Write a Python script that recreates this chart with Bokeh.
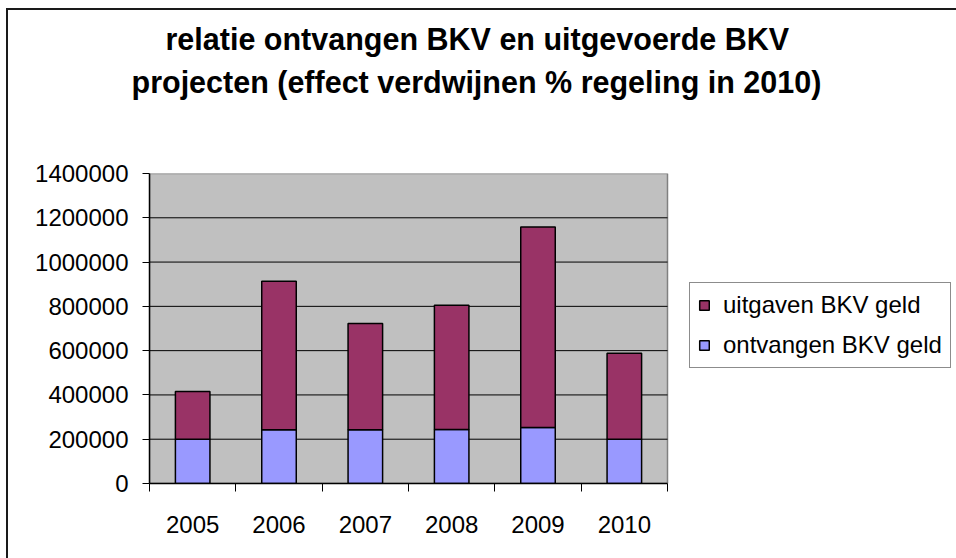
from bokeh.plotting import figure
from bokeh.models import FixedTicker, Legend, LegendItem, Title, Range1d, ColumnDataSource
from bokeh.embed import file_html
from bokeh.resources import INLINE

years = ["2005", "2006", "2007", "2008", "2009", "2010"]
ontvangen = [200000, 243000, 243000, 244000, 253000, 200000]
uitgaven = [216000, 670000, 480000, 561000, 905000, 388000]
y_ticks = [0, 200000, 400000, 600000, 800000, 1000000, 1200000, 1400000]

FONT = "Liberation Sans"
PLOT_W = 518      # width of the grey plot area in pixels
FRAME_W = 807     # frame extends to the right so the legend can sit beside the plot area
FRAME_H = 310

n = len(years)
x_pos = [i + 0.5 for i in range(n)]
src = ColumnDataSource(dict(x=x_pos, ontvangen=ontvangen, uitgaven=uitgaven))

p = figure(frame_width=FRAME_W, frame_height=FRAME_H, output_backend="svg",
           toolbar_location=None,
           x_range=Range1d(0, n * FRAME_W / PLOT_W), y_range=Range1d(0, y_ticks[-1]),
           min_border_left=141, min_border_right=0, min_border_top=163,
           min_border_bottom=75, title=None)
p.styles = {"border-left": "2px solid #1a1a1a", "border-top": "2px solid #1a1a1a",
            "margin-left": "6px", "margin-top": "8px"}

p.background_fill_color = "white"
p.border_fill_color = "white"
p.outline_line_color = None

# grey plot area with its border, and the horizontal grid lines
p.quad(left=[0], right=[n], bottom=[y_ticks[0]], top=[y_ticks[-1]],
       fill_color="#C0C0C0", line_color="#808080", line_width=1.5)
p.segment(x0=[0] * (len(y_ticks) - 2), x1=[n] * (len(y_ticks) - 2),
          y0=y_ticks[1:-1], y1=y_ticks[1:-1], line_color="black", line_width=1)

rs = p.vbar_stack(["ontvangen", "uitgaven"], x="x", width=0.4, source=src,
                  color=["#9999FF", "#993366"], line_color="black", line_width=1.5)

# x axis
p.xaxis.bounds = (0, n)
p.xaxis.ticker = FixedTicker(ticks=x_pos, minor_ticks=list(range(n + 1)))
p.xaxis.major_label_overrides = {xp: y for xp, y in zip(x_pos, years)}
p.xaxis.major_tick_out = 0
p.xaxis.major_tick_in = 0
p.xaxis.minor_tick_out = 8
p.xaxis.minor_tick_in = 0
p.xaxis.minor_tick_line_color = "black"
p.xaxis.minor_tick_line_width = 1
p.xaxis.axis_line_color = "black"
p.xaxis.axis_line_width = 1.5
p.xaxis.major_label_standoff = 24
p.xaxis.major_label_text_font = FONT
p.xaxis.major_label_text_font_size = "24px"
p.xaxis.major_label_text_color = "black"

# y axis
p.yaxis.ticker = FixedTicker(ticks=y_ticks)
p.yaxis.major_label_overrides = {t: str(t) for t in y_ticks}
p.yaxis.major_tick_out = 7
p.yaxis.major_tick_in = 0
p.yaxis.minor_tick_line_color = None
p.yaxis.axis_line_color = "black"
p.yaxis.axis_line_width = 1.5
p.yaxis.major_tick_line_color = "black"
p.yaxis.major_label_standoff = 14
p.yaxis.major_label_text_font = FONT
p.yaxis.major_label_text_font_size = "24px"
p.yaxis.major_label_text_color = "black"

p.xgrid.grid_line_color = None
p.ygrid.grid_line_color = None

# titles (a blank spacer keeps the gap between the title and the plot area)
spacer = Title(text=" ", text_font_size="2px", standoff=71)
t2 = Title(text="projecten (effect verdwijnen % regeling in 2010)", align="left",
           offset=-18, standoff=0, text_font=FONT,
           text_font_size="30.5px", text_font_style="bold", text_color="black")
t1 = Title(text="relatie ontvangen BKV en uitgevoerde BKV", align="left",
           offset=16, standoff=14, text_font=FONT,
           text_font_size="30.5px", text_font_style="bold", text_color="black")
p.add_layout(spacer, "above")
p.add_layout(t2, "above")
p.add_layout(t1, "above")

legend = Legend(items=[LegendItem(label="uitgaven BKV geld", renderers=[rs[1]]),
                       LegendItem(label="ontvangen BKV geld", renderers=[rs[0]])],
                location=(PLOT_W + 22, 115), label_text_font=FONT,
                label_text_font_size="24px", label_text_color="black",
                glyph_width=12, glyph_height=12, label_standoff=13, spacing=12,
                padding=8, margin=0, border_line_color="#1a1a1a", border_line_width=1.5,
                background_fill_color="white", background_fill_alpha=1.0)
p.add_layout(legend)

open("out.html", "w").write(file_html(p, INLINE))
